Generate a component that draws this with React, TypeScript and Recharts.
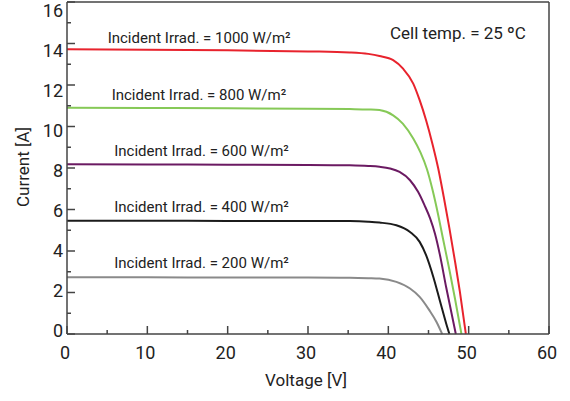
import { LineChart, Line, XAxis, YAxis, ReferenceDot } from "recharts";

// I-V curves (voltage in V, current in A)
const redV = [0, 10, 20, 30, 35.2, 37.5, 38.9, 40.6, 41.8, 43.1, 43.9, 44.7, 45.5, 46.2, 46.9, 47.6, 48.3, 48.9, 49.65];
const redI = [13.72, 13.7, 13.67, 13.62, 13.57, 13.5, 13.4, 13.2, 12.8, 12.07, 11.27, 10.3, 9.15, 8.0, 6.6, 5.1, 3.5, 2.05, 0];

const greenV = [0, 10, 20, 30, 35.2, 37.5, 38.9, 40.6, 41.8, 43.1, 44.0, 44.8, 45.5, 46.2, 46.8, 47.6, 48.3, 49.1];
const greenI = [10.9, 10.89, 10.88, 10.86, 10.84, 10.82, 10.79, 10.54, 10.14, 9.42, 8.75, 7.95, 6.95, 5.75, 4.6, 3.1, 1.7, 0];

const purpleV = [0, 10, 20, 30, 35.2, 37.5, 38.9, 40.2, 41.4, 42.7, 43.7, 44.5, 45.2, 45.8, 46.4, 47.2, 48.4];
const purpleI = [8.18, 8.17, 8.16, 8.15, 8.13, 8.1, 8.06, 7.98, 7.81, 7.41, 6.85, 6.21, 5.57, 4.84, 3.85, 2.25, 0];

const blackV = [0, 10, 20, 30, 35.2, 37.5, 38.9, 41.0, 42.7, 43.9, 44.7, 45.6, 46.4, 47.2, 47.6];
const blackI = [5.46, 5.46, 5.45, 5.45, 5.44, 5.41, 5.37, 5.24, 4.92, 4.44, 3.8, 2.75, 1.63, 0.51, 0];

const grayV = [0, 10, 20, 30, 35.2, 37.5, 38.9, 41.0, 42.7, 43.9, 45.1, 46.0, 46.7];
const grayI = [2.73, 2.73, 2.72, 2.72, 2.71, 2.69, 2.67, 2.51, 2.19, 1.79, 1.15, 0.58, 0];

const xTicks = [0, 5, 10, 15, 20, 25, 30, 35, 40, 45, 50, 55, 60];
const yTicks = [0, 1, 2, 3, 4, 5, 6, 7, 8, 9, 10, 11, 12, 13, 14, 15, 16];

const irradLabels = [
  { text: "Incident Irrad. = 1000 W/m²", v: 5.06, i: 14.26 },
  { text: "Incident Irrad. = 800 W/m²", v: 5.56, i: 11.51 },
  { text: "Incident Irrad. = 600 W/m²", v: 5.88, i: 8.81 },
  { text: "Incident Irrad. = 400 W/m²", v: 5.88, i: 6.1 },
  { text: "Incident Irrad. = 200 W/m²", v: 5.88, i: 3.43 },
];
const tempLabel = { text: "Cell temp. = 25 ºC", v: 40.2, i: 14.48 };

const toPoints = (vs: number[], is: number[]) => vs.map((v, k) => ({ v, i: is[k] }));

const curves = [
  { name: "1000", color: "#e8232d", data: toPoints(redV, redI) },
  { name: "800", color: "#86c957", data: toPoints(greenV, greenI) },
  { name: "600", color: "#6b1a62", data: toPoints(purpleV, purpleI) },
  { name: "400", color: "#1b1b1b", data: toPoints(blackV, blackI) },
  { name: "200", color: "#8a8a8a", data: toPoints(grayV, grayI) },
];

const AXIS = "#444";
const TEXT = "#222";
const FONT = "Roboto, sans-serif";

const BottomTick = ({ x, y, payload }: any) => {
  const major = payload.value % 10 === 0;
  return (
    <g>
      <line x1={x} y1={y} x2={x} y2={y - (major ? 8 : 4)} stroke={AXIS} strokeWidth={1.5} />
      {major && (
        <text x={x - 2} y={y + 25} textAnchor="middle" fontSize={18} fill={TEXT} fontFamily={FONT}>
          {payload.value}
        </text>
      )}
    </g>
  );
};

const TopTick = ({ x, y, payload }: any) => {
  const major = payload.value % 10 === 0;
  return <line x1={x} y1={y} x2={x} y2={y + (major ? 8 : 4)} stroke={AXIS} strokeWidth={1.5} />;
};

const LeftTick = ({ x, y, payload }: any) => {
  const major = payload.value % 2 === 0;
  // the labels sit on a slightly tighter spacing than the ticks in the original
  const shift = 8.2 - 0.75 * (16 - payload.value);
  return (
    <g>
      <line x1={x} y1={y} x2={x + (major ? 8 : 4)} y2={y} stroke={AXIS} strokeWidth={1.5} />
      {major && (
        <text x={x - 4} y={y + shift + 6.5} textAnchor="end" fontSize={18} fill={TEXT} fontFamily={FONT}>
          {payload.value}
        </text>
      )}
    </g>
  );
};

const RightTick = ({ x, y, payload }: any) => {
  const major = payload.value % 2 === 0;
  return <line x1={x} y1={y} x2={x - (major ? 8 : 4)} y2={y} stroke={AXIS} strokeWidth={1.5} />;
};

const note = (text: string, size: number) => (props: any) => (
  <text x={props.cx} y={props.cy} dy={5} fontSize={size} fill={TEXT} fontFamily={FONT}>
    {text}
  </text>
);

export default function App() {
  return (
    <div style={{ position: "absolute", left: 0, top: 0, background: "#fff" }}>
      <LineChart width={570} height={401} margin={{ top: 0, right: 20, bottom: 0, left: 0 }}>
        <XAxis
          dataKey="v"
          type="number"
          domain={[0, 60]}
          ticks={xTicks}
          interval={0}
          height={67}
          tickSize={0}
          tickMargin={0}
          tickLine={false}
          tick={<BottomTick />}
          axisLine={{ stroke: AXIS, strokeWidth: 1.5 }}
          label={{
            content: ({ viewBox }: any) => (
              <text
                x={viewBox.x + viewBox.width / 2 - 2}
                y={viewBox.y + 52}
                textAnchor="middle"
                fontSize={17}
                fill={TEXT}
                fontFamily={FONT}
              >
                Voltage [V]
              </text>
            ),
          }}
        />
        <XAxis
          xAxisId="top"
          orientation="top"
          type="number"
          domain={[0, 60]}
          ticks={xTicks}
          interval={0}
          height={2}
          tickSize={0}
          tickMargin={0}
          tickLine={false}
          tick={<TopTick />}
          axisLine={{ stroke: AXIS, strokeWidth: 1.5 }}
        />
        <YAxis
          type="number"
          domain={[0, 16]}
          ticks={yTicks}
          interval={0}
          width={67}
          tickSize={0}
          tickMargin={0}
          tickLine={false}
          tick={<LeftTick />}
          axisLine={{ stroke: AXIS, strokeWidth: 1.5 }}
          label={{
            content: ({ viewBox }: any) => {
              const cx = viewBox.x + 29;
              const cy = viewBox.y + viewBox.height / 2 - 1;
              return (
                <text
                  x={cx}
                  y={cy}
                  transform={`rotate(-90 ${cx} ${cy})`}
                  textAnchor="middle"
                  fontSize={17}
                  fill={TEXT}
                  fontFamily={FONT}
                >
                  Current [A]
                </text>
              );
            },
          }}
        />
        <YAxis
          yAxisId="right"
          orientation="right"
          type="number"
          domain={[0, 16]}
          ticks={yTicks}
          interval={0}
          width={1}
          tickSize={0}
          tickMargin={0}
          tickLine={false}
          tick={<RightTick />}
          axisLine={{ stroke: AXIS, strokeWidth: 1.5 }}
        />
        {curves.map((c) => (
          <Line
            key={c.name}
            data={c.data}
            dataKey="i"
            type="monotone"
            stroke={c.color}
            strokeWidth={2}
            dot={false}
            isAnimationActive={false}
          />
        ))}
        {irradLabels.map((l) => (
          <ReferenceDot key={l.text} x={l.v} y={l.i} r={0} shape={note(l.text, 15)} />
        ))}
        <ReferenceDot x={tempLabel.v} y={tempLabel.i} r={0} shape={note(tempLabel.text, 17)} />
      </LineChart>
    </div>
  );
}
